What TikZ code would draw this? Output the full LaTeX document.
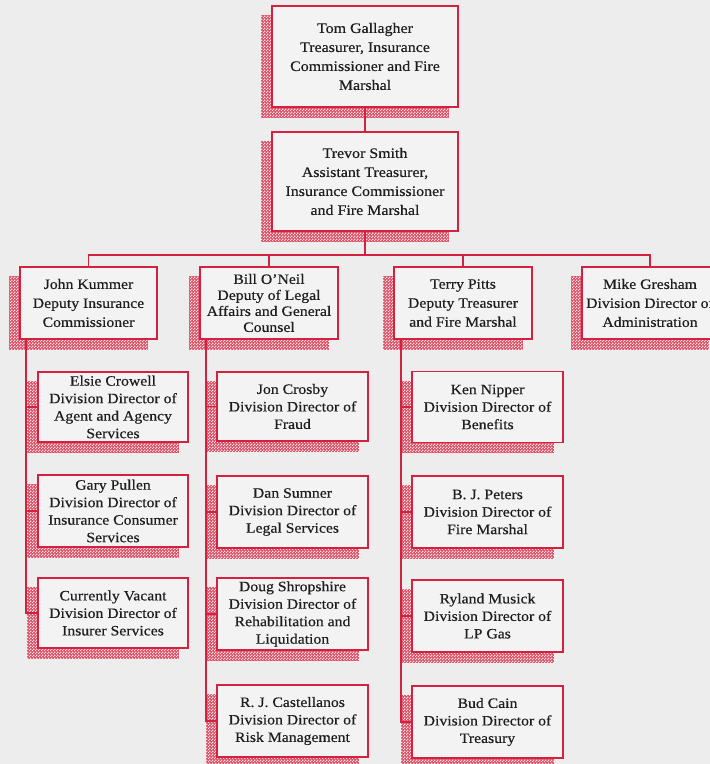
\documentclass[tikz,border=0pt]{standalone}
\usepackage{fontspec}
\setmainfont{Liberation Serif}[FakeStretch=1.1,FakeBold=0.4]
\usetikzlibrary{patterns,backgrounds}
\definecolor{ored}{HTML}{D4213F}
\definecolor{bgc}{HTML}{EDEDED}
\definecolor{boxc}{HTML}{F3F3F3}
\definecolor{txt}{HTML}{1E1E1E}
\pgfdeclarepatternformonly{checker}{\pgfpointorigin}{\pgfpoint{2.6pt}{2.6pt}}{\pgfpoint{2.6pt}{2.6pt}}{%
  \pgfpathrectangle{\pgfpointorigin}{\pgfpoint{1.3pt}{1.3pt}}%
  \pgfpathrectangle{\pgfpoint{1.3pt}{1.3pt}}{\pgfpoint{1.3pt}{1.3pt}}%
  \pgfusepath{fill}}
\newcommand\shd[1]{%
  \fill[ored!80!white] ([shift={(-10,10)}]#1.south west) rectangle ([shift={(-10,10)}]#1.north east);
  \fill[pattern=checker, pattern color=white!85!ored] ([shift={(-10,10)}]#1.south west) rectangle ([shift={(-10,10)}]#1.north east);}
\tikzset{
  orgbox/.style={draw=ored, line width=1.8pt, fill=boxc, text=txt, align=center, inner sep=1pt},
  topbox/.style={orgbox, minimum width=186pt, font=\fontsize{14.5}{19}\selectfont},
  midbox/.style={orgbox, minimum width=138pt, minimum height=72pt, font=\fontsize{14.3}{19}\selectfont},
  subbox/.style={orgbox, minimum width=151pt, minimum height=71pt, font=\fontsize{14.3}{17.5}\selectfont},
  conn/.style={draw=ored, line width=1.6pt}
}
\begin{document}
\begin{tikzpicture}[x=1pt,y=-1pt]
\useasboundingbox (0,0) rectangle (710,764);
\clip (0,0) rectangle (710,764);

\node[topbox, minimum height=101pt] (tom) at (365,56.5) {Tom Gallagher\\Treasurer, Insurance\\Commissioner and Fire\\Marshal};
\node[topbox, minimum height=99pt] (trevor) at (365,181.5) {Trevor Smith\\Assistant Treasurer,\\Insurance Commissioner\\and Fire Marshal};

\node[midbox, minimum width=137pt] (john) at (88.5,303) {John Kummer\\Deputy Insurance\\Commissioner};
\node[midbox, font=\fontsize{14.3}{16}\selectfont] (bill) at (269,303) {Bill O'Neil\\Deputy of Legal\\Affairs and General\\Counsel};
\node[midbox] (terry) at (463,303) {Terry Pitts\\Deputy Treasurer\\and Fire Marshal};
\node[midbox, minimum width=136pt] (mike) at (650,303) {Mike Gresham\\Division Director of\\Administration};

\node[subbox, minimum width=150pt, minimum height=70pt] (elsie) at (113,407) {Elsie Crowell\\Division Director of\\Agent and Agency\\Services};
\node[subbox, minimum width=150pt, minimum height=72pt] (gary) at (113,511) {Gary Pullen\\Division Director of\\Insurance Consumer\\Services};
\node[subbox, minimum width=150pt, minimum height=70pt] (vacant) at (113,613) {Currently Vacant\\Division Director of\\Insurer Services};

\node[subbox, minimum height=69pt] (jon) at (292.5,406.5) {Jon Crosby\\Division Director of\\Fraud};
\node[subbox, minimum height=72pt] (dan) at (292.5,512) {Dan Sumner\\Division Director of\\Legal Services};
\node[subbox, minimum height=72pt] (doug) at (292.5,614) {Doug Shropshire\\Division Director of\\Rehabilitation and\\Liquidation};
\node[subbox, minimum height=72pt] (rj) at (292.5,721) {R. J. Castellanos\\Division Director of\\Risk Management};

\node[subbox] (ken) at (487.5,407) {Ken Nipper\\Division Director of\\Benefits};
\node[subbox, minimum height=72pt] (bj) at (487.5,512) {B. J. Peters\\Division Director of\\Fire Marshal};
\node[subbox, minimum height=72pt] (ryland) at (487.5,616) {Ryland Musick\\Division Director of\\LP Gas};
\node[subbox, minimum height=72pt] (bud) at (487.5,722) {Bud Cain\\Division Director of\\Treasury};

\begin{scope}[on background layer]
\fill[bgc] (0,0) rectangle (710,764);
\foreach \n in {tom,trevor,john,bill,terry,mike,elsie,gary,vacant,jon,dan,doug,rj,ken,bj,ryland,bud}{\shd{\n}}
\end{scope}

\draw[conn] (tom.south) -- (trevor.north);
\coordinate (bus) at (365,255);
\draw[conn] (trevor.south) -- (bus);
\draw[conn] (john.north) -- (john.north |- bus) -- (mike.north |- bus) -- (mike.north);
\draw[conn] (bill.north) -- (bill.north |- bus);
\draw[conn] (terry.north) -- (terry.north |- bus);

\coordinate (jl) at ([xshift=7pt]john.south west);
\draw[conn] (jl) |- (vacant.west);
\draw[conn] (elsie.west) -- (elsie.west -| jl);
\draw[conn] (gary.west) -- (gary.west -| jl);

\coordinate (bl) at ([xshift=7pt]bill.south west);
\draw[conn] (bl) |- (rj.west);
\draw[conn] (jon.west) -- (jon.west -| bl);
\draw[conn] (dan.west) -- (dan.west -| bl);
\draw[conn] (doug.west) -- (doug.west -| bl);

\coordinate (tl) at ([xshift=8pt]terry.south west);
\draw[conn] (tl) |- (bud.west);
\draw[conn] (ken.west) -- (ken.west -| tl);
\draw[conn] (bj.west) -- (bj.west -| tl);
\draw[conn] (ryland.west) -- (ryland.west -| tl);
\end{tikzpicture}
\end{document}
